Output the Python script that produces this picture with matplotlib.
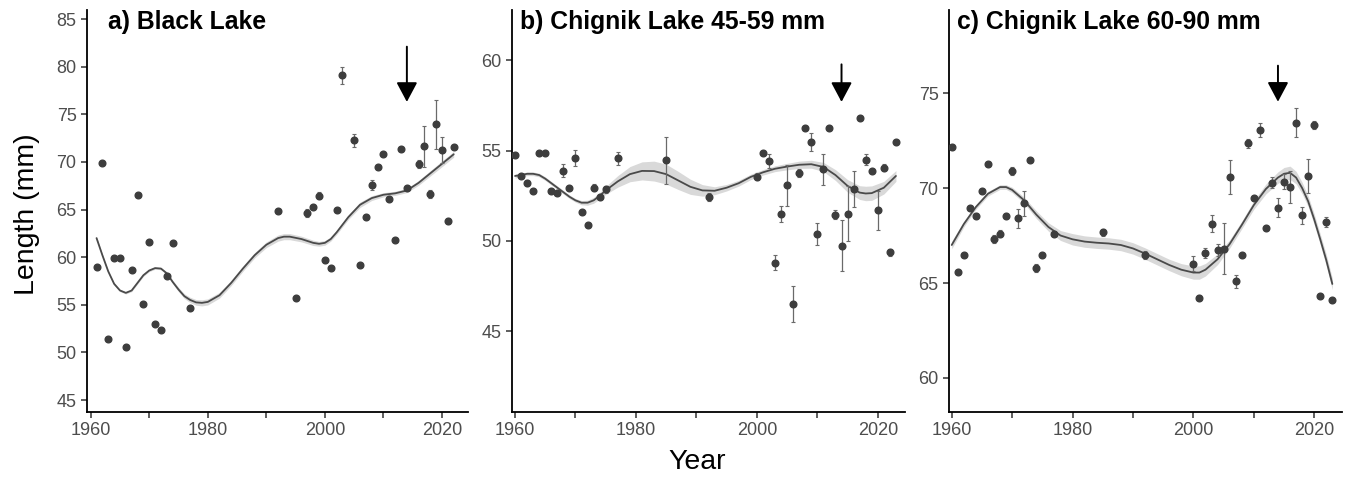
import matplotlib
matplotlib.use("Agg")
import matplotlib.pyplot as plt
import numpy as np

plt.rcParams["font.family"] = ["Liberation Sans", "DejaVu Sans"]

# ---- a) Black Lake ----
a_years = [1961, 1962, 1963, 1964, 1965, 1966, 1967, 1968, 1969, 1970, 1971, 1972, 1973, 1974,
           1977, 1992, 1995, 1997, 1998, 1999, 2000, 2001, 2002, 2003, 2005, 2006, 2007, 2008,
           2009, 2010, 2011, 2012, 2013, 2014, 2016, 2017, 2018, 2019, 2020, 2021, 2022]
a_mean = [59.0, 69.9, 51.4, 59.9, 59.9, 50.6, 58.7, 66.5, 55.1, 61.6, 53.0, 52.4, 58.05, 61.45,
          54.7, 64.8, 55.7, 64.65, 65.3, 66.45, 59.65, 58.9, 64.95, 79.1, 72.25, 59.15, 64.2, 67.6,
          69.5, 70.8, 66.15, 61.75, 71.4, 67.3, 69.75, 71.65, 66.65, 73.95, 71.25, 63.8, 71.6]
a_err = [0.1, 0.1, 0.1, 0.1, 0.1, 0.1, 0.1, 0.1, 0.1, 0.1, 0.1, 0.1, 0.1, 0.1,
         0.1, 0.1, 0.1, 0.45, 0.2, 0.35, 0.3, 0.1, 0.2, 0.9, 0.65, 0.1, 0.2, 0.55,
         0.2, 0.1, 0.2, 0.1, 0.1, 0.2, 0.4, 2.15, 0.4, 2.6, 1.35, 0.3, 0.1]
a_fit_years = [1961, 1962, 1963, 1964, 1965, 1966, 1967, 1968, 1969, 1970, 1971, 1972, 1973, 1974,
               1975, 1976, 1977, 1978, 1979, 1980, 1982, 1984, 1986, 1988, 1990, 1992, 1993, 1994,
               1996, 1998, 1999, 2000, 2001, 2002, 2004, 2006, 2008, 2010, 2012, 2014, 2016, 2018,
               2020, 2022]
a_fit = [62.0, 60.2, 58.5, 57.2, 56.5, 56.25, 56.5, 57.3, 58.1, 58.6, 58.85, 58.8, 58.3, 57.4,
         56.6, 55.9, 55.5, 55.25, 55.2, 55.3, 56.0, 57.3, 58.8, 60.2, 61.3, 62.0, 62.15, 62.15,
         61.9, 61.5, 61.4, 61.5, 61.9, 62.6, 64.2, 65.5, 66.2, 66.55, 66.7, 67.0, 67.8, 68.8,
         69.8, 70.8]
a_fit_se = [0.15, 0.12, 0.12, 0.12, 0.12, 0.12, 0.12, 0.12, 0.12, 0.12, 0.12, 0.12, 0.15, 0.18,
            0.22, 0.25, 0.28, 0.3, 0.32, 0.32, 0.3, 0.28, 0.28, 0.28, 0.3, 0.32, 0.32, 0.32,
            0.3, 0.28, 0.25, 0.25, 0.22, 0.22, 0.25, 0.28, 0.25, 0.22, 0.22, 0.22, 0.25, 0.28,
            0.3, 0.3]

# ---- b) Chignik Lake 45-59 mm ----
b_years = [1960, 1961, 1962, 1963, 1964, 1965, 1966, 1967, 1968, 1969, 1970, 1971, 1972, 1973,
           1974, 1975, 1977, 1985, 1992, 2000, 2001, 2002, 2003, 2004, 2005, 2006, 2007, 2008,
           2009, 2010, 2011, 2012, 2013, 2014, 2015, 2016, 2017, 2018, 2019, 2020, 2021, 2022, 2023]
b_mean = [54.77, 53.61, 53.22, 52.76, 54.85, 54.85, 52.76, 52.67, 53.9, 52.96, 54.6, 51.58, 50.86,
          52.96, 52.44, 52.87, 54.57, 54.46, 52.44, 53.55, 54.88, 54.44, 48.8, 51.48, 53.09, 46.51,
          53.77, 56.27, 55.46, 50.37, 53.96, 56.27, 51.46, 49.73, 51.52, 52.87, 56.79, 54.51, 53.9,
          51.7, 54.05, 49.38, 55.46]
b_err = [0.1, 0.1, 0.15, 0.1, 0.1, 0.1, 0.1, 0.1, 0.35, 0.1, 0.45, 0.1, 0.1,
         0.2, 0.15, 0.2, 0.35, 1.31, 0.2, 0.2, 0.1, 0.4, 0.4, 0.45, 1.13, 1.0,
         0.2, 0.1, 0.5, 0.6, 0.85, 0.1, 0.25, 1.41, 1.54, 1.0, 0.1, 0.3, 0.1,
         1.07, 0.2, 0.2, 0.1]
b_fit_years = [1960, 1961, 1962, 1963, 1964, 1965, 1966, 1967, 1968, 1969, 1970, 1971, 1972, 1973,
               1974, 1975, 1977, 1979, 1981, 1983, 1985, 1987, 1989, 1991, 1993, 1995, 1997, 1999,
               2001, 2003, 2005, 2007, 2009, 2011, 2013, 2015, 2017, 2018, 2019, 2021, 2023]
b_fit = [53.6, 53.65, 53.72, 53.72, 53.65, 53.45, 53.2, 52.95, 52.7, 52.45, 52.25, 52.12, 52.12,
         52.25, 52.5, 52.8, 53.3, 53.7, 53.88, 53.87, 53.7, 53.35, 53.0, 52.8, 52.78, 52.95, 53.2,
         53.55, 53.8, 54.0, 54.12, 54.22, 54.25, 54.1, 53.65, 53.05, 52.68, 52.63, 52.65, 52.95, 53.6]
b_fit_se = [0.12, 0.1, 0.1, 0.1, 0.1, 0.1, 0.1, 0.1, 0.1, 0.1, 0.1, 0.12, 0.14,
            0.16, 0.18, 0.22, 0.32, 0.42, 0.5, 0.55, 0.55, 0.5, 0.42, 0.32, 0.22, 0.18, 0.16,
            0.15, 0.15, 0.16, 0.18, 0.2, 0.22, 0.25, 0.3, 0.35, 0.38, 0.4, 0.4, 0.35, 0.3]

# ---- c) Chignik Lake 60-90 mm ----
c_years = [1960, 1961, 1962, 1963, 1964, 1965, 1966, 1967, 1968, 1969, 1970, 1971, 1972, 1973,
           1974, 1975, 1977, 1985, 1992, 2000, 2001, 2002, 2003, 2004, 2005, 2006, 2007, 2008,
           2009, 2010, 2011, 2012, 2013, 2014, 2015, 2016, 2017, 2018, 2019, 2020, 2021, 2022, 2023]
c_mean = [72.17, 65.6, 66.46, 68.97, 68.55, 69.85, 71.24, 67.31, 67.6, 68.55, 70.91, 68.4, 69.2,
          71.49, 65.8, 66.46, 67.6, 67.66, 66.46, 66.02, 64.23, 66.57, 68.13, 66.73, 66.81, 70.59,
          65.09, 66.46, 72.35, 69.48, 73.05, 67.92, 70.29, 68.96, 70.33, 70.06, 73.44, 68.57, 70.63,
          73.31, 64.32, 68.22, 64.13]
c_err = [0.1, 0.1, 0.1, 0.1, 0.15, 0.1, 0.1, 0.2, 0.2, 0.15, 0.2, 0.5, 0.65,
         0.1, 0.2, 0.1, 0.15, 0.2, 0.2, 0.4, 0.15, 0.25, 0.45, 0.3, 1.36, 0.88,
         0.35, 0.1, 0.25, 0.1, 0.35, 0.1, 0.3, 0.5, 0.4, 0.86, 0.75, 0.45, 0.9,
         0.2, 0.1, 0.25, 0.1]
c_fit_years = [1960, 1962, 1964, 1966, 1968, 1969, 1970, 1972, 1974, 1976, 1978, 1980, 1982, 1984,
               1986, 1988, 1990, 1992, 1994, 1996, 1998, 2000, 2001, 2002, 2004, 2006, 2008, 2010,
               2012, 2014, 2015, 2016, 2017, 2018, 2019, 2020, 2021, 2022, 2023]
c_fit = [67.0, 68.1, 69.0, 69.7, 70.05, 70.05, 69.9, 69.35, 68.6, 67.95, 67.5, 67.3, 67.18, 67.12,
         67.08, 67.0, 66.82, 66.55, 66.25, 65.95, 65.7, 65.55, 65.55, 65.7, 66.25, 67.05, 68.05,
         69.1, 69.95, 70.55, 70.75, 70.8, 70.55, 70.0, 69.3, 68.35, 67.3, 66.2, 64.95]
c_fit_se = [0.2, 0.15, 0.12, 0.12, 0.12, 0.12, 0.14, 0.16, 0.2, 0.22, 0.26, 0.3, 0.3, 0.3,
            0.3, 0.3, 0.3, 0.3, 0.3, 0.3, 0.32, 0.35, 0.35, 0.33, 0.28, 0.22, 0.2, 0.22,
            0.26, 0.3, 0.33, 0.35, 0.33, 0.3, 0.28, 0.28, 0.28, 0.3, 0.3]

panel_titles = ["a) Black Lake", "b) Chignik Lake 45-59 mm", "c) Chignik Lake 60-90 mm"]
arrow_year = 2014
arrow_spans = [(82.1, 76.3), (59.78, 57.7), (76.44, 74.54)]
y_ticks = [[45, 50, 55, 60, 65, 70, 75, 80, 85], [45, 50, 55, 60], [60, 65, 70, 75]]
x_major = [1960, 1980, 2000, 2020]
x_minor = [1970, 1990, 2010]

W, H = 1353, 479
fig = plt.figure(figsize=(W / 100, H / 100), dpi=100)

# axes boxes in pixels: left, right, top, bottom
boxes = [(87, 468, 10, 412), (512, 905, 10, 412), (949, 1342, 10, 412)]
ylims = [(43.74, 85.95), (40.53, 62.79), (58.21, 79.37)]
xlims = [(1959.37, 2024.44), (1959.5, 2024.5), (1959.55, 2024.6)]
title_dx = [21, 8, 8]

panels = [
    (a_years, a_mean, a_err, a_fit_years, a_fit, a_fit_se),
    (b_years, b_mean, b_err, b_fit_years, b_fit, b_fit_se),
    (c_years, c_mean, c_err, c_fit_years, c_fit, c_fit_se),
]

for i, (yrs, mean, err, fy, fv, fse) in enumerate(panels):
    l, r, t, b = boxes[i]
    ax = fig.add_axes([l / W, 1 - b / H, (r - l) / W, (b - t) / H])
    fy = np.array(fy, float)
    fv = np.array(fv, float)
    fse = np.array(fse, float)
    ax.fill_between(fy, fv - fse, fv + fse, color="#d9d9d9", lw=0, zorder=1)
    ax.plot(fy, fv, color="#4a4a4a", lw=1.3, zorder=2, solid_capstyle="round")
    ax.errorbar(yrs, mean, yerr=err, fmt="o", ms=4.8, color="#3d3d3d", mec="#3d3d3d",
                ecolor="#6a6a6a", elinewidth=0.9, capsize=1.6, capthick=0.8, zorder=3)
    top, tip = arrow_spans[i]
    ax.annotate("", xy=(arrow_year, tip), xytext=(arrow_year, top),
                arrowprops=dict(arrowstyle="-|>,head_width=0.32,head_length=0.6",
                                mutation_scale=20, lw=1.4, color="black",
                                shrinkA=0, shrinkB=0), zorder=4)
    ax.set_xlim(*xlims[i])
    ax.set_ylim(*ylims[i])
    ax.set_xticks(x_major)
    ax.set_xticks(x_minor, minor=True)
    ax.set_yticks(y_ticks[i])
    for s in ["top", "right"]:
        ax.spines[s].set_visible(False)
    for s in ["left", "bottom"]:
        ax.spines[s].set_linewidth(1.3)
        ax.spines[s].set_color("black")
    ax.tick_params(axis="both", which="both", direction="out", length=4.5, width=1.1,
                   color="#333333", labelcolor="#4d4d4d", labelsize=13, pad=3)
    ax.text(title_dx[i] / (r - l), 1 - 12 / (b - t), panel_titles[i], transform=ax.transAxes,
            fontsize=17.8, fontweight="bold", color="black", ha="left", va="center")

fig.text(27 / W, 1 - 214 / H, "Length (mm)", rotation=90, fontsize=20.5,
         ha="center", va="center", color="black")
fig.text(697 / W, 1 - 462 / H, "Year", fontsize=20.5, ha="center", va="center", color="black")

fig.savefig("out.png", dpi=100)
